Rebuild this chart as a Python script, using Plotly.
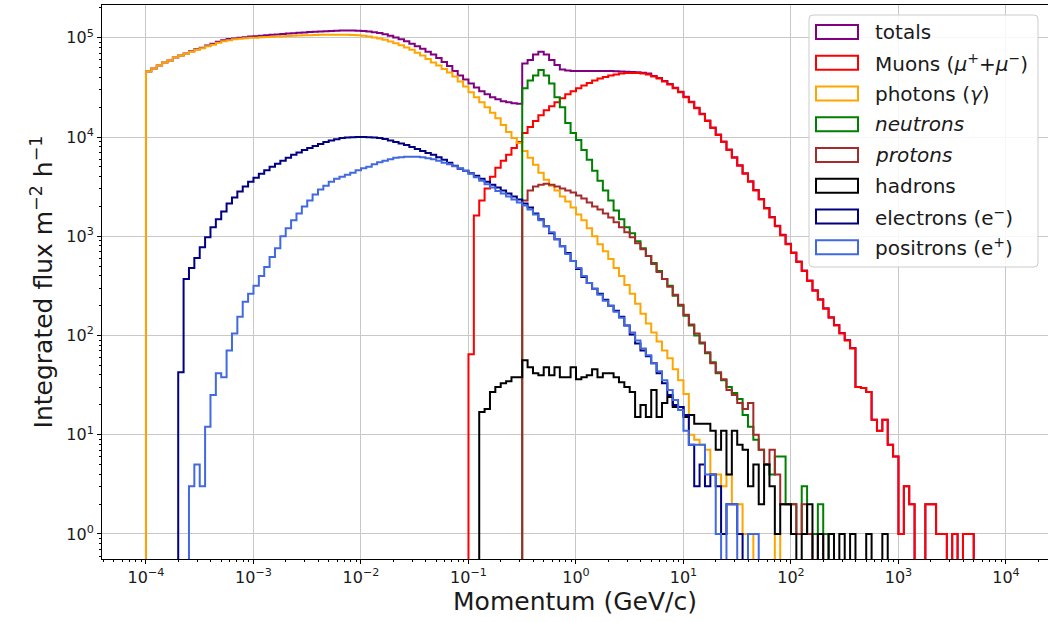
import plotly.graph_objects as go

# ---------------- data (log10 of integrated flux per bin) ----------------
bins_per_decade = 20
n_bins = 160
edge_exponents = [-4 + i / bins_per_decade for i in range(n_bins + 1)]
bin_edges = [10 ** e for e in edge_exponents]

totals_first_bin = 0
totals_log10 = [
    4.66, 4.69, 4.72, 4.75, 4.77, 4.80, 4.82, 4.842, 4.863, 4.884,
    4.90, 4.922, 4.94, 4.96, 4.976, 4.987, 4.993, 5.0, 5.005, 5.012,
    5.016, 5.02, 5.025, 5.03, 5.034, 5.038, 5.042, 5.046, 5.05, 5.053,
    5.057, 5.06, 5.063, 5.066, 5.068, 5.07, 5.072, 5.073, 5.073, 5.071,
    5.068, 5.062, 5.055, 5.047, 5.035, 5.02, 5.003, 4.985, 4.965, 4.94,
    4.915, 4.89, 4.86, 4.83, 4.795, 4.755, 4.715, 4.665, 4.62, 4.58,
    4.54, 4.50, 4.46, 4.43, 4.40, 4.38, 4.36, 4.35, 4.34, 4.335,
    4.74, 4.775, 4.83, 4.86, 4.83, 4.775, 4.725, 4.68, 4.67, 4.665,
    4.665, 4.665, 4.665, 4.665, 4.665, 4.665, 4.665, 4.662, 4.66, 4.658,
    4.655, 4.652, 4.648, 4.64, 4.615, 4.595, 4.565, 4.535, 4.495, 4.455,
    4.405, 4.355, 4.295, 4.235, 4.165, 4.095, 4.025, 3.955, 3.875, 3.795,
    3.715, 3.635, 3.555, 3.465, 3.375, 3.285, 3.195, 3.105, 3.015, 2.925,
    2.835, 2.745, 2.655, 2.555, 2.455, 2.365, 2.275, 2.185, 2.105, 2.025,
    1.955, 1.875, 1.48, 1.47, 1.43, 1.15, 1.04, 1.15, 0.9, 0.78,
    0, 0.48, 0.3, None, None, 0.3, 0.3, 0, 0, None, 0, None, 0, 0,
]

muons_first_bin = 60
muons_log10 = [
    1.81, 3.21, 3.36, 3.48, 3.60, 3.69, 3.76, 3.82, 3.89, 3.95,
    4.04, 4.10, 4.16, 4.22, 4.27, 4.31, 4.35, 4.39, 4.43, 4.46,
    4.49, 4.52, 4.545, 4.57, 4.59, 4.605, 4.62, 4.63, 4.64, 4.645,
    4.645, 4.645, 4.64, 4.63, 4.61, 4.59, 4.56, 4.53, 4.49, 4.45,
    4.40, 4.35, 4.29, 4.23, 4.16, 4.09, 4.02, 3.95, 3.87, 3.79,
    3.71, 3.63, 3.55, 3.46, 3.37, 3.28, 3.19, 3.10, 3.01, 2.92,
    2.83, 2.74, 2.65, 2.55, 2.45, 2.36, 2.27, 2.18, 2.10, 2.02,
    1.95, 1.87, 1.48, 1.47, 1.43, 1.15, 1.04, 1.15, 0.9, 0.78,
    0, 0.48, 0.3, None, None, 0.3, 0.3, 0, 0, None, 0, None, 0, 0,
]

photons_first_bin = 0
photons_log10 = [
    4.66, 4.69, 4.72, 4.75, 4.77, 4.80, 4.82, 4.84, 4.86, 4.88,
    4.895, 4.915, 4.93, 4.95, 4.965, 4.975, 4.985, 4.99, 4.995, 5.0,
    5.0, 5.005, 5.007, 5.01, 5.012, 5.015, 5.017, 5.02, 5.022, 5.024,
    5.026, 5.028, 5.029, 5.03, 5.03, 5.03, 5.03, 5.03, 5.028, 5.025,
    5.02, 5.012, 5.003, 4.993, 4.98, 4.963, 4.945, 4.925, 4.903, 4.88,
    4.85, 4.82, 4.785, 4.75, 4.72, 4.685, 4.65, 4.61, 4.56, 4.51,
    4.45, 4.40, 4.35, 4.30, 4.245, 4.19, 4.12, 4.05, 3.99, 3.94,
    3.86, 3.79, 3.72, 3.64, 3.57, 3.51, 3.46, 3.40, 3.35, 3.29,
    3.22, 3.16, 3.08, 3.0, 2.92, 2.85, 2.77, 2.68, 2.60, 2.51,
    2.42, 2.32, 2.22, 2.12, 2.03, 1.94, 1.85, 1.77, 1.66, 1.55,
    1.41, 1.0, 0.95, 0.9, 0.85, 0.6, 0.6, 0.48, 0.6, 0.3,
    0.3, 0, 0, None, None, None, None, 0,
]

neutrons_first_bin = 70
neutrons_log10 = [
    4.49, 4.57, 4.62, 4.675, 4.62, 4.54, 4.40, 4.30, 4.14, 4.04,
    3.97, 3.87, 3.77, 3.66, 3.56, 3.46, 3.36, 3.26, 3.17, 3.09,
    3.03, 2.95, 2.88, 2.80, 2.73, 2.65, 2.57, 2.50, 2.40, 2.30,
    2.2, 2.1, 2.0, 1.92, 1.82, 1.73, 1.62, 1.55, 1.48, 1.42,
    1.36, 1.2, 1.08, 0.95, 0.85, 0.7, 0.6, 0.78, 0.78, 0.3,
    0.3, 0, 0.48, 0, 0, 0.3, 0,
]

protons_first_bin = 70
protons_log10 = [
    3.36, 3.46, 3.50, 3.52, 3.53, 3.52, 3.50, 3.48, 3.46, 3.44,
    3.41, 3.38, 3.34, 3.30, 3.27, 3.23, 3.19, 3.14, 3.09, 3.04,
    2.99, 2.93, 2.87, 2.80, 2.72, 2.64, 2.57, 2.49, 2.41, 2.31,
    2.21, 2.11, 2.02, 1.93, 1.83, 1.72, 1.63, 1.56, 1.45, 1.40,
    1.32, 1.26, 1.32, 1.0, 0.85, 0.7, 0.85, 0.6, 0.3, 0.3,
    0.3, 0, 0.3, 0, None, 0,
]

hadrons_first_bin = 62
hadrons_log10 = [
    1.23, 1.26, 1.43, 1.48, 1.52, 1.54, 1.58, 1.58,
    1.75, 1.68, 1.62, 1.6, 1.68, 1.6, 1.68, 1.58, 1.58, 1.68,
    1.56, 1.58, 1.6, 1.66, 1.58, 1.62, 1.62, 1.58, 1.53, 1.48,
    1.43, 1.18, 1.3, 1.18, 1.45, 1.18, 1.32, 1.38, 1.28, 1.28,
    1.18, 1.2, 1.11, 1.11, 1.11, 1.04, 0.85, 1.04, 0.6, 1.04,
    0.9, 0.85, 0.48, 0.7, 0.3, 0.7, 0.48, 0, 0.3, 0.3,
    0, None, 0, 0.3, None, 0, None, 0, None, 0,
    None, 0, None, None, 0, None, None, 0,
]

electrons_first_bin = 6
electrons_log10 = [
    1.63, 2.57, 2.68, 2.78,
    2.89, 2.99, 3.09, 3.17, 3.25, 3.33, 3.39, 3.45, 3.50, 3.55,
    3.59, 3.63, 3.665, 3.70, 3.73, 3.76, 3.79, 3.82, 3.845, 3.87,
    3.89, 3.91, 3.93, 3.95, 3.965, 3.978, 3.99, 3.995, 3.998, 4.0,
    4.0, 3.998, 3.995, 3.99, 3.98, 3.965, 3.95, 3.935, 3.92, 3.90,
    3.88, 3.86, 3.84, 3.82, 3.795, 3.77, 3.74, 3.71, 3.68, 3.66,
    3.635, 3.61, 3.58, 3.55, 3.52, 3.49, 3.46, 3.43, 3.40, 3.37,
    3.33, 3.29, 3.23, 3.17, 3.10, 3.03, 2.97, 2.90, 2.83, 2.75,
    2.67, 2.59, 2.53, 2.47, 2.42, 2.36, 2.30, 2.25, 2.19, 2.10,
    2.01, 1.92, 1.85, 1.79, 1.72, 1.62, 1.52, 1.40, 1.30, 1.28,
    1.2, 0.9, 0.48, 0.7, 0.48, 0.6, 0.48, 0, 0.3, 0.3, 0,
]

positrons_first_bin = 8
positrons_log10 = [
    0.48, 0.7,
    0.48, 1.08, 1.4, 1.62, 1.58, 1.85, 2.02, 2.19, 2.34, 2.42,
    2.5, 2.6, 2.69, 2.79, 2.88, 3.0, 3.08, 3.16, 3.23, 3.3,
    3.36, 3.42, 3.47, 3.51, 3.55, 3.58, 3.60, 3.62, 3.64, 3.665,
    3.685, 3.70, 3.725, 3.745, 3.76, 3.775, 3.79, 3.795, 3.80, 3.80,
    3.80, 3.795, 3.785, 3.775, 3.76, 3.74, 3.725, 3.705, 3.685, 3.66,
    3.63, 3.595, 3.56, 3.525, 3.49, 3.455, 3.43, 3.40, 3.37, 3.34,
    3.31, 3.27, 3.22, 3.16, 3.10, 3.04, 2.97, 2.90, 2.82, 2.75,
    2.68, 2.60, 2.53, 2.47, 2.41, 2.35, 2.30, 2.24, 2.18, 2.10,
    2.03, 1.95, 1.87, 1.80, 1.72, 1.64, 1.55, 1.45, 1.35, 1.25,
    1.04, 0.9, 0.9, 0.9, 0.6, 0.6, 0, None, 0.3, 0.3,
    None, None, 0, 0,
]

series_names = [
    "totals", "Muons (<i>μ</i><sup>+</sup>+<i>μ</i><sup>−</sup>)", "photons (<i>γ</i>)",
    "<i>neutrons</i>", "<i>protons</i>", "hadrons",
    "electrons (e<sup>−</sup>)", "positrons (e<sup>+</sup>)",
]
series_colors = ["#800080", "#ff0000", "#ffa500", "#008000", "#a52a2a", "#000000", "#000080", "#4169e1"]
series_data = [
    (totals_first_bin, totals_log10),
    (muons_first_bin, muons_log10),
    (photons_first_bin, photons_log10),
    (neutrons_first_bin, neutrons_log10),
    (protons_first_bin, protons_log10),
    (hadrons_first_bin, hadrons_log10),
    (electrons_first_bin, electrons_log10),
    (positrons_first_bin, positrons_log10),
]

x_tick_exps = list(range(-4, 5))
y_tick_exps = list(range(0, 6))

# ---------------- figure ----------------
FLOOR = 1e-3  # empty bins: the outline drops below the axis, as in a step histogram


def step_xy(first, logs):
    vals = [None] * n_bins
    for k, v in enumerate(logs):
        if first + k < n_bins:
            vals[first + k] = v
    ys = [10 ** v if v is not None else FLOOR for v in vals]
    x = [bin_edges[0]] + bin_edges
    y = [FLOOR] + ys + [FLOOR]
    return x, y


fig = go.Figure()
for name, color, (first, logs) in zip(series_names, series_colors, series_data):
    x, y = step_xy(first, logs)
    fig.add_trace(go.Scatter(x=x, y=y, mode="lines", line=dict(color=color, width=2, shape="hv", simplify=False),
                             name=name, showlegend=False, hoverinfo="skip"))

W, H = 1048, 622
L, R, T, B = 102, 0, 5, 63
pw, ph = W - L - R, H - T - B


def px(xp):
    return (xp - L) / pw


def py(yp):
    return (H - B - yp) / ph


minor_x = [m * 10 ** e for e in range(-5, 5) for m in range(2, 10)]
minor_y = [m * 10 ** e for e in range(-1, 6) for m in range(2, 10)]

TXT = "#1a1a1a"
fig.update_layout(
    width=W, height=H,
    margin=dict(l=L, r=R, t=T, b=B, autoexpand=False),
    plot_bgcolor="white", paper_bgcolor="white",
    showlegend=False,
    font=dict(family="DejaVu Sans", color=TXT),
)
fig.update_xaxes(
    type="log", range=[-4.409, 4.391],
    tickmode="array", tickvals=[10 ** e for e in x_tick_exps],
    ticktext=[f"10<sup>{str(e).replace('-', '−')}</sup>" for e in x_tick_exps],
    ticks="outside", ticklen=4, tickwidth=1, tickcolor="black",
    tickfont=dict(size=16, color=TXT),
    showline=True, linecolor="black", linewidth=1, mirror=True,
    showgrid=True, gridcolor="#c8c8c8", gridwidth=1, zeroline=False,
    minor=dict(tickmode="array", tickvals=minor_x, ticks="outside", ticklen=2, tickcolor="black", showgrid=False),
    title=dict(text="Momentum (GeV/c)", font=dict(size=25, color=TXT), standoff=5),
    automargin=False,
)
fig.update_yaxes(
    type="log", range=[-0.252, 5.33],
    tickmode="array", tickvals=[10 ** e for e in y_tick_exps],
    ticktext=[f"10<sup>{e}</sup>" for e in y_tick_exps],
    ticks="outside", ticklen=4, tickwidth=1, tickcolor="black",
    tickfont=dict(size=16, color=TXT),
    showline=True, linecolor="black", linewidth=1, mirror=False,
    showgrid=True, gridcolor="#c8c8c8", gridwidth=1, zeroline=False,
    minor=dict(tickmode="array", tickvals=minor_y, ticks="outside", ticklen=2, tickcolor="black", showgrid=False),
    title=dict(text="Integrated flux m<sup>−2</sup> h<sup>−1</sup>", font=dict(size=25, color=TXT), standoff=6),
    automargin=False,
)

# ---------------- legend (outlined patches, like a step-histogram legend) ----------------
lx0, lx1, ly0, ly1 = 809, 1038, 15, 267
rad = 4
x0, x1, y0, y1 = px(lx0), px(lx1), py(ly0), py(ly1)
rx, ry = rad / pw, rad / ph
path = (f"M {x0 + rx},{y0} L {x1 - rx},{y0} Q {x1},{y0} {x1},{y0 - ry} "
        f"L {x1},{y1 + ry} Q {x1},{y1} {x1 - rx},{y1} L {x0 + rx},{y1} Q {x0},{y1} {x0},{y1 + ry} "
        f"L {x0},{y0 - ry} Q {x0},{y0} {x0 + rx},{y0} Z")
shapes = [dict(type="path", path=path, xref="paper", yref="paper",
               fillcolor="rgba(255,255,255,0.85)", line=dict(color="#cccccc", width=1), layer="above")]
annotations = []
for i, (name, color) in enumerate(zip(series_names, series_colors)):
    yc = 32 + 30.75 * i
    shapes.append(dict(type="rect", xref="paper", yref="paper",
                       x0=px(816), x1=px(858), y0=py(yc - 7), y1=py(yc + 7),
                       line=dict(color=color, width=2), fillcolor="rgba(0,0,0,0)", layer="above"))
    annotations.append(dict(x=px(873), y=py(yc), xref="paper", yref="paper", text=name, showarrow=False,
                            xanchor="left", yanchor="middle", font=dict(size=20, color=TXT)))

fig.update_layout(shapes=shapes, annotations=annotations)

fig.write_html("out.html")
